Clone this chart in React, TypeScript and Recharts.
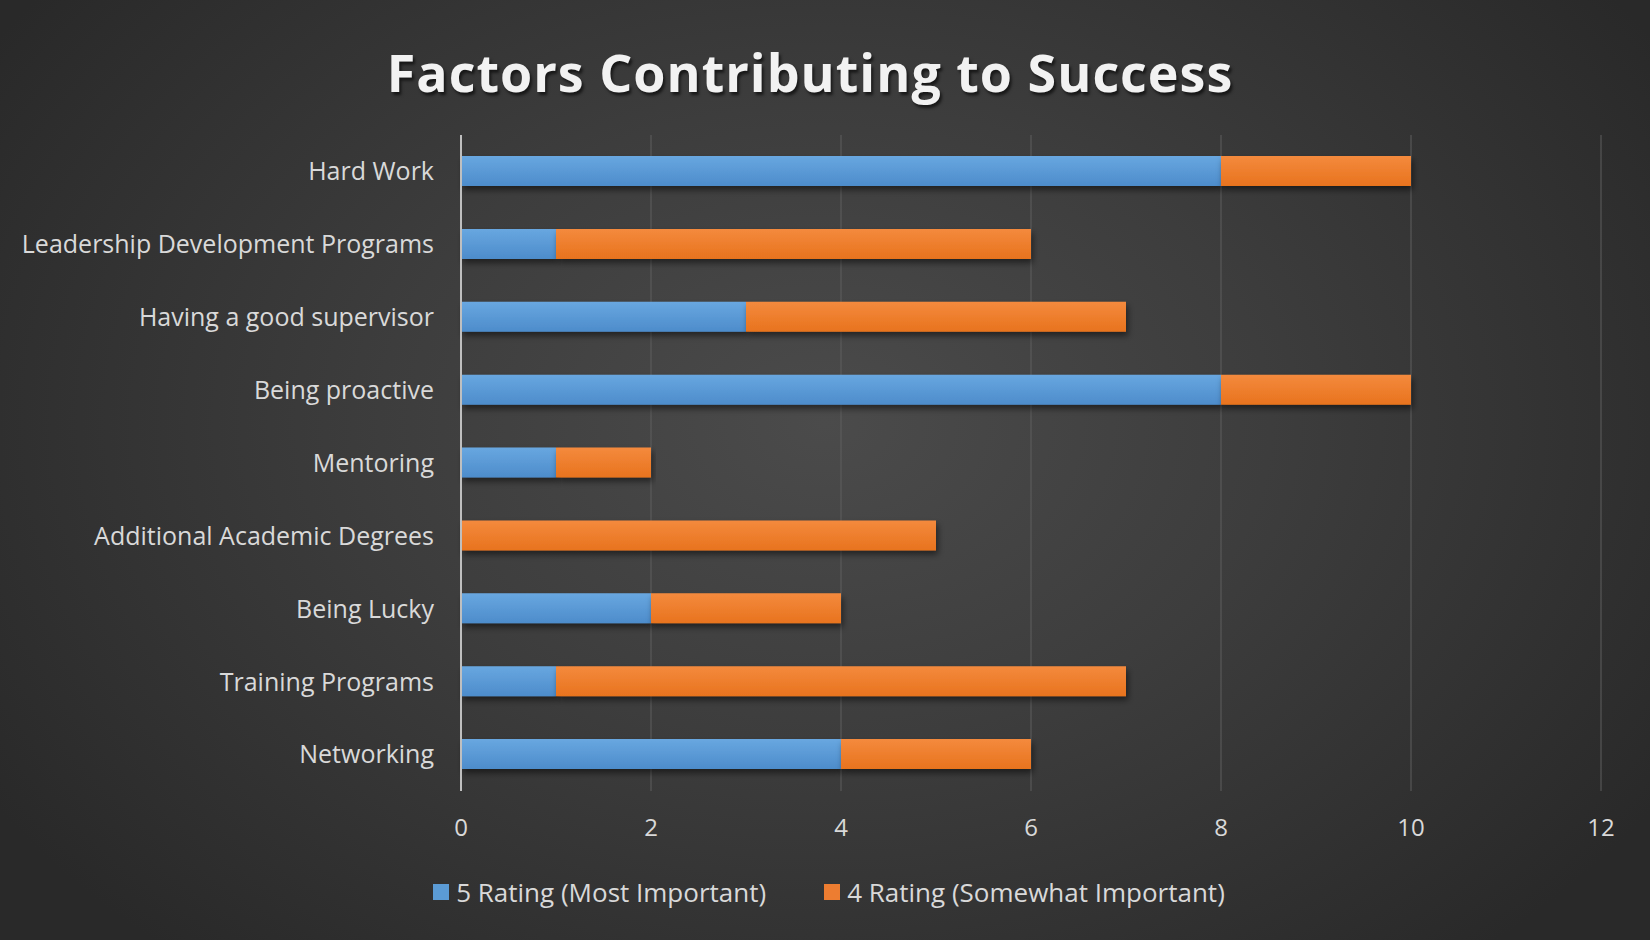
import React from "react";
import {
  BarChart,
  Bar,
  XAxis,
  YAxis,
  CartesianGrid,
  Legend,
} from "recharts";

const categories = [
  "Hard Work",
  "Leadership Development Programs",
  "Having a good supervisor",
  "Being proactive",
  "Mentoring",
  "Additional Academic Degrees",
  "Being Lucky",
  "Training Programs",
  "Networking",
];
const mostImportant = [8, 1, 3, 8, 1, 0, 2, 1, 4];
const somewhatImportant = [2, 5, 4, 2, 1, 5, 2, 6, 2];
const xTicks = [0, 2, 4, 6, 8, 10, 12];
const seriesNames = ["5 Rating (Most Important)", "4 Rating (Somewhat Important)"];
const seriesColors = ["#5b9bd5", "#ed7d31"];

const data = categories.map((name, i) => ({
  name,
  five: mostImportant[i],
  four: somewhatImportant[i],
}));

const FONT = "'Open Sans', 'Liberation Sans', sans-serif";
const LABEL = "#d9d9d9";

function LegendContent() {
  return (
    <div style={{ display: "flex", justifyContent: "center", gap: 58, fontSize: 26, fontFamily: FONT, color: LABEL, paddingLeft: 8 }}>
      {seriesNames.map((n, i) => (
        <div key={n} style={{ display: "flex", alignItems: "center", gap: 7 }}>
          <span style={{ display: "inline-block", width: 16, height: 16, background: seriesColors[i] }} />
          <span>{n}</span>
        </div>
      ))}
    </div>
  );
}

export default function App() {
  return (
    <div
      style={{
        position: "absolute",
        left: 0,
        top: 0,
        width: 1650,
        height: 940,
        overflow: "hidden",
        background:
          "radial-gradient(ellipse 60% 75% at 50% 45%, #4b4b4b 0%, #3d3d3d 45%, #292929 100%)",
        fontFamily: FONT,
      }}
    >
      <div
        style={{
          position: "absolute",
          top: 36,
          left: -15,
          width: 1650,
          textAlign: "center",
          color: "#f2f2f2",
          fontSize: 52,
          fontWeight: 700,
          letterSpacing: 1,
          textShadow: "2px 3px 3px rgba(0,0,0,0.6)",
        }}
      >
        Factors Contributing to Success
      </div>
      <BarChart
        width={1650}
        height={940}
        data={data}
        layout="vertical"
        barSize={30}
        margin={{ top: 135, right: 49, left: 0, bottom: 83 }}
      >
        <defs>
          <linearGradient id="blueGrad" x1="0" y1="0" x2="0" y2="1">
            <stop offset="0%" stopColor="#68a7e0" />
            <stop offset="100%" stopColor="#4d8ccb" />
          </linearGradient>
          <linearGradient id="orangeGrad" x1="0" y1="0" x2="0" y2="1">
            <stop offset="0%" stopColor="#f48a3d" />
            <stop offset="100%" stopColor="#e8731e" />
          </linearGradient>
          <filter id="barShadow" x="-5%" y="-20%" width="110%" height="160%">
            <feDropShadow dx="2" dy="4" stdDeviation="3" floodColor="#000" floodOpacity="0.5" />
          </filter>
        </defs>
        <CartesianGrid stroke="#5e5e5e" horizontal={false} strokeWidth={1} />
        <XAxis
          type="number"
          domain={[0, 12]}
          ticks={xTicks}
          axisLine={false}
          tickLine={false}
          tickMargin={22}
          tick={{ fill: LABEL, fontSize: 24, fontFamily: FONT }}
        />
        <YAxis
          type="category"
          dataKey="name"
          width={461}
          axisLine={{ stroke: "#bfbfbf", strokeWidth: 2 }}
          tickLine={false}
          tickSize={0}
          tickMargin={27}
          tick={{ fill: LABEL, fontSize: 25, fontFamily: FONT }}
        />
        <Legend
          verticalAlign="bottom"
          content={<LegendContent />}
          wrapperStyle={{ top: 874, left: 0, width: 1650 }}
        />
        <Bar
          dataKey="five"
          name={seriesNames[0]}
          stackId="a"
          fill="url(#blueGrad)"
          filter="url(#barShadow)"
          isAnimationActive={false}
        />
        <Bar
          dataKey="four"
          name={seriesNames[1]}
          stackId="a"
          fill="url(#orangeGrad)"
          filter="url(#barShadow)"
          isAnimationActive={false}
        />
      </BarChart>
    </div>
  );
}
